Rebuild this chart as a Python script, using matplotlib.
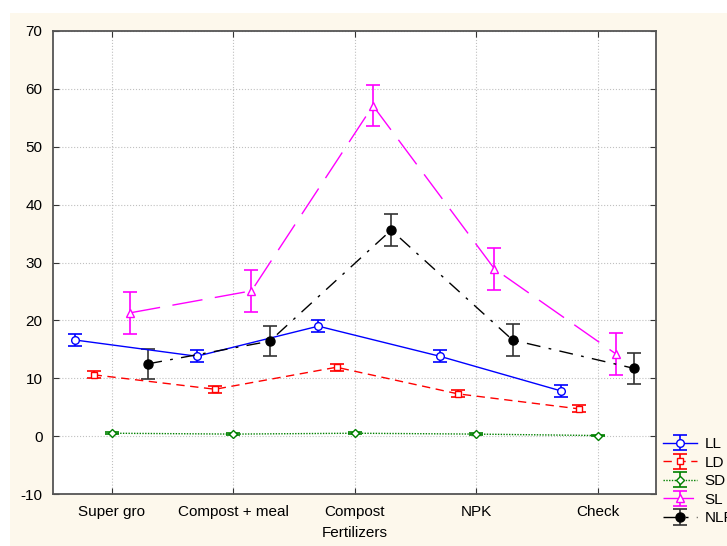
import matplotlib.pyplot as plt
from matplotlib.patches import Rectangle
import numpy as np

plt.rcParams['font.family'] = ['Liberation Sans', 'DejaVu Sans']
plt.rcParams['axes.unicode_minus'] = False

# data
categories = ["Super gro", "Compost + meal", "Compost", "NPK", "Check"]
ll = [16.6, 13.8, 19.0, 13.8, 7.8]
ll_err = [1.1, 1.0, 1.0, 1.0, 1.0]
ld = [10.6, 8.1, 11.9, 7.3, 4.7]
ld_err = [0.6, 0.6, 0.6, 0.6, 0.6]
sd = [0.5, 0.35, 0.5, 0.35, 0.1]
sd_err = [0.15, 0.15, 0.15, 0.15, 0.15]
sl = [21.3, 25.1, 57.1, 28.9, 14.2]
sl_err = [3.6, 3.6, 3.6, 3.6, 3.6]
nlp = [12.5, 16.4, 35.6, 16.6, 11.7]
nlp_err = [2.6, 2.6, 2.7, 2.7, 2.7]

fig = plt.figure(figsize=(7.27, 5.46), dpi=100)
fig.patches.append(Rectangle((10 / 727, 0), 1, 1 - 13 / 546, transform=fig.transFigure,
                             facecolor='#fdf8ec', edgecolor='none', zorder=-10))
ax = fig.add_axes([53.5 / 727, 1 - 494 / 546, (656 - 53.5) / 727, (494 - 31) / 546])

x = np.arange(len(categories))
series = [
    ("LL", ll, ll_err, -0.3, 'blue', '-', 'o', 'white', 'blue', 5.5),
    ("LD", ld, ld_err, -0.15, 'red', (0, (6, 4)), 's', 'white', 'red', 5),
    ("SD", sd, sd_err, 0.0, 'green', (0, (1, 1)), 'D', 'white', 'green', 4.5),
    ("SL", sl, sl_err, 0.15, 'magenta', (0, (22, 9)), '^', 'white', 'magenta', 5.5),
    ("NLP", nlp, nlp_err, 0.3, 'black', (0, (10, 6, 2, 6)), 'o', 'black', '#333333', 6.5),
]
handles = []
for name, vals, errs, off, col, ls, mk, mfc, ecol, ms in series:
    h = ax.errorbar(x + off, vals, yerr=errs, color=col, linestyle=ls, linewidth=1,
                    marker=mk, markersize=ms, markerfacecolor=mfc, markeredgecolor=col,
                    ecolor=ecol, elinewidth=1.2, capsize=5, capthick=1.2, label=name)
    handles.append(h)

ax.set_xlim(-0.48, 4.48)
ax.set_ylim(-10, 70)
ax.set_xticks(x)
ax.set_xticklabels(categories)
ax.set_yticks(range(-10, 71, 10))
ax.set_xlabel("Fertilizers", fontsize=11, labelpad=5)
ax.grid(True, color='#c0c0c0', linestyle=':', linewidth=0.8)
ax.set_axisbelow(True)
ax.tick_params(direction='in', length=4, top=True, right=True, labelsize=11, pad=8,
               color='#333333')
for s in ax.spines.values():
    s.set_color('#555555')
    s.set_linewidth(1.3)

fig.legend(handles=handles, loc='upper left', bbox_to_anchor=(663 / 727, 1 - 437 / 546),
           frameon=False, fontsize=11, handlelength=2.2, handletextpad=0.5,
           labelspacing=0.3, borderpad=0, borderaxespad=0)

fig.savefig("out.png", dpi=100, facecolor='white')
